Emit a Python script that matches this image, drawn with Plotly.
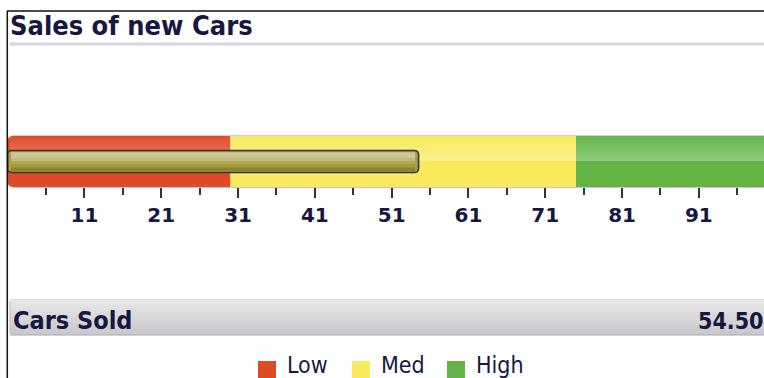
import plotly.graph_objects as go

# ---- data -------------------------------------------------------------
chart_title = "Sales of new Cars"
measure_name = "Cars Sold"
measure_value = 54.5
axis_min = 1
range_labels = ["Low", "Med", "High"]
range_starts = [1, 30, 75]
range_ends = [30, 75, 100]
tick_values = [11, 21, 31, 41, 51, 61, 71, 81, 91]
tick_labels = ["11", "21", "31", "41", "51", "61", "71", "81", "91"]

# ---- styling ----------------------------------------------------------
W, H = 764, 378
PX_PER_UNIT = 7.68
range_colors = ["#e04b27", "#f8ea5c", "#64b447"]
NAVY = "#17173f"
TITLE_FONT = "DejaVu Sans Condensed, Liberation Sans, sans-serif"
TICK_FONT = "DejaVu Sans, Verdana, sans-serif"

BAND_TOP, BAND_BOT = 136, 187
BAR_CENTER, BAR_THICK = 161.5, 22

# half-step ticks between the labelled ones
minor_ticks = [v - 5 for v in tick_values] + [tick_values[-1] + 5]


def mix(c1, c2, t):
    a = [int(c1[i:i + 2], 16) for i in (1, 3, 5)]
    b = [int(c2[i:i + 2], 16) for i in (1, 3, 5)]
    return "rgb(%d,%d,%d)" % tuple(round(a[k] + (b[k] - a[k]) * t) for k in range(3))


def px(x):
    return x / W


shapes = []
annotations = []

# frame lines
shapes.append(dict(type="line", xref="paper", yref="y", x0=px(7), x1=px(W + 5), y0=11, y1=11,
                   line=dict(color="#111111", width=1.5), layer="above"))
shapes.append(dict(type="line", xref="paper", yref="y", x0=px(7.3), x1=px(7.3), y0=11, y1=H + 5,
                   line=dict(color="#111111", width=1.5), layer="above"))

# title and its separator rule
annotations.append(dict(text="<b>%s</b>" % chart_title, xref="paper", yref="y", x=px(8), y=25,
                        xanchor="left", yanchor="middle", showarrow=False,
                        font=dict(family=TITLE_FONT, size=27, color=NAVY)))
for i, c in enumerate(["#e6e6ec", "#d6d6e0", "#d8d8e2", "#e8e8ee"]):
    shapes.append(dict(type="rect", xref="paper", yref="y", x0=px(10), x1=px(W + 5),
                       y0=42 + i, y1=43 + i, line=dict(width=0), fillcolor=c, layer="below"))

# qualitative range bands
for k, (s, e, col) in enumerate(zip(range_starts, range_ends, range_colors)):
    if k == 0:
        r = 0.7  # rounded leading corner, in axis units
        path = ("M %f,%f L %f,%f L %f,%f L %f,%f Q %f,%f %f,%f L %f,%f Q %f,%f %f,%f Z" % (
            s + r, BAND_TOP, e, BAND_TOP, e, BAND_BOT, s + r, BAND_BOT,
            s, BAND_BOT, s, BAND_BOT - 5, s, BAND_TOP + 5, s, BAND_TOP, s + r, BAND_TOP))
        shapes.append(dict(type="path", xref="x", yref="y", path=path, fillcolor=col,
                           line=dict(width=0), layer="below"))
    else:
        shapes.append(dict(type="rect", xref="x", yref="y", x0=s, x1=e, y0=BAND_TOP, y1=BAND_BOT,
                           fillcolor=col, line=dict(width=0), layer="below"))
    # glossy upper half
    n = 8
    for j in range(n):
        y0 = BAND_TOP + 1 + j * 3
        shapes.append(dict(type="rect", xref="x", yref="y", x0=s + (0.3 if k == 0 else 0), x1=e,
                           y0=y0, y1=min(y0 + 3, 161), fillcolor="white",
                           opacity=0.05 + 0.03 * j, line=dict(width=0), layer="below"))

# thin outline round the band
shapes.append(dict(type="line", xref="x", yref="y", x0=range_starts[0] + 0.6, x1=range_ends[-1],
                   y0=BAND_TOP - 0.5, y1=BAND_TOP - 0.5, line=dict(color="#cfcfd8", width=1), layer="below"))
shapes.append(dict(type="line", xref="x", yref="y", x0=range_starts[0] + 0.6, x1=range_ends[-1],
                   y0=BAND_BOT + 0.5, y1=BAND_BOT + 0.5, line=dict(color="#c4c4cc", width=1), layer="below"))

# measure bar
bar = go.Bar(x=[measure_value - axis_min], base=[axis_min], y=[BAR_CENTER], orientation="h",
             width=BAR_THICK,
             marker=dict(color="#a9a143", line=dict(color="#35342a", width=1.6), cornerradius=4),
             hoverinfo="skip", showlegend=False)

# sheen on the measure bar
sheen = [("#cdc694", 0.0, 0.3), ("#c0b97a", 0.3, 0.47), ("#b0a854", 0.47, 0.64),
         ("#a39b3c", 0.64, 0.82), ("#8c8430", 0.82, 1.0)]
top = BAR_CENTER - BAR_THICK / 2 + 1.8
bot = BAR_CENTER + BAR_THICK / 2 - 1.8
for col, f0, f1 in sheen:
    shapes.append(dict(type="rect", xref="x", yref="y", x0=axis_min + 0.45, x1=measure_value - 0.45,
                       y0=top + (bot - top) * f0, y1=top + (bot - top) * f1 + 0.3,
                       fillcolor=col, line=dict(width=0), layer="above"))

# measure summary strip
SY0, SY1 = 299, 335
n = 12
for j in range(n):
    y0 = SY0 + j * (SY1 - SY0) / n
    shapes.append(dict(type="rect", xref="paper", yref="y", x0=px(10), x1=px(W + 5),
                       y0=y0, y1=y0 + (SY1 - SY0) / n + 0.3,
                       fillcolor=mix("#e8e8eb", "#c8c8cc", j / (n - 1)), line=dict(width=0), layer="below"))
shapes.append(dict(type="line", xref="paper", yref="y", x0=px(11), x1=px(W + 5), y0=SY0 + 0.5, y1=SY0 + 0.5,
                   line=dict(color="#d6d6dc", width=1), layer="below"))
shapes.append(dict(type="line", xref="paper", yref="y", x0=px(11), x1=px(W + 5), y0=SY1, y1=SY1,
                   line=dict(color="#aeaeb6", width=1.2), layer="below"))
shapes.append(dict(type="line", xref="paper", yref="y", x0=px(10), x1=px(10), y0=SY0 + 2, y1=SY1 - 2,
                   line=dict(color="#bdbdc4", width=1), layer="below"))
annotations.append(dict(text="<b>%s</b>" % measure_name, xref="paper", yref="y", x=px(11), y=320,
                        xanchor="left", yanchor="middle", showarrow=False,
                        font=dict(family=TITLE_FONT, size=25, color=NAVY)))
annotations.append(dict(text="<b>%.2f</b>" % measure_value, xref="paper", yref="y", x=px(W + 1), y=321,
                        xanchor="right", yanchor="middle", showarrow=False,
                        font=dict(family=TITLE_FONT, size=23, color=NAVY)))

# legend
legend_x = [258, 352, 447]
for lab, col, lx in zip(range_labels, range_colors, legend_x):
    shapes.append(dict(type="rect", xref="paper", yref="y", x0=px(lx), x1=px(lx + 18),
                       y0=361, y1=379, fillcolor=col, line=dict(width=0)))
    annotations.append(dict(text=lab, xref="paper", yref="y", x=px(lx + 27), y=365,
                            xanchor="left", yanchor="middle", showarrow=False,
                            font=dict(family=TITLE_FONT, size=23, color=NAVY)))

fig = go.Figure(bar)
fig.update_layout(
    width=W, height=H, margin=dict(l=0, r=0, t=0, b=0),
    paper_bgcolor="white", plot_bgcolor="white",
    shapes=shapes, annotations=annotations, showlegend=False,
    xaxis=dict(range=[0, W / PX_PER_UNIT], domain=[0, 1], anchor="free", position=1 - BAND_BOT / H,
               side="bottom", showgrid=False, zeroline=False, showline=False,
               tickmode="array", tickvals=tick_values, ticktext=tick_labels,
               ticks="outside", ticklen=10, tickwidth=2, tickcolor="#333333",
               tickfont=dict(family=TICK_FONT, size=20, color=NAVY, weight="bold"),
               minor=dict(tickmode="array", tickvals=minor_ticks, ticks="outside", ticklen=7,
                          tickwidth=2, tickcolor="#333333", showgrid=False),
               fixedrange=True),
    yaxis=dict(range=[H, 0], domain=[0, 1], visible=False, fixedrange=True),
)

fig.write_html("out.html")
